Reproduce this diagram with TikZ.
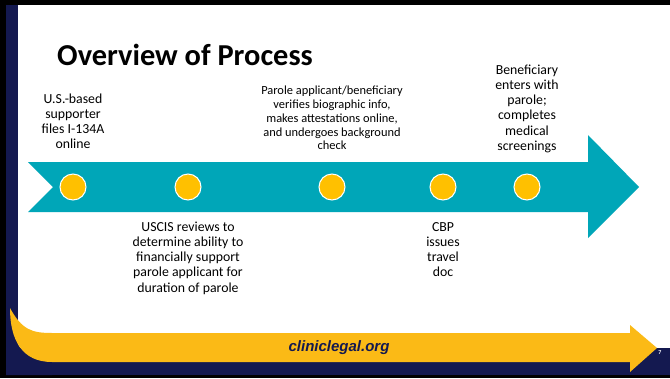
\documentclass[tikz,border=0pt]{standalone}
\usepackage{fontspec}
\setmainfont{Carlito}
\newfontfamily\sitefont{Liberation Sans}
\usetikzlibrary{calc,positioning,shapes.geometric}
\definecolor{slidenavy}{RGB}{20,25,80}
\definecolor{arrowteal}{RGB}{0,166,184}
\definecolor{dotyellow}{RGB}{255,192,0}
\definecolor{bandyellow}{RGB}{251,186,22}

\begin{document}
\begin{tikzpicture}[
  x=1pt,y=-1pt,
  steptext/.style={align=center,inner sep=0pt,anchor=north,font=\fontsize{13.8}{15.2}\selectfont},
  smalltext/.style={steptext,font=\fontsize{12.4}{13.8}\selectfont},
  dot/.style={circle,fill=dotyellow,draw=white,line width=1pt,minimum size=26pt,inner sep=0pt},
  ]
  \useasboundingbox (0,0) rectangle (670,378);

  % frame of the slide
  \fill[black] (0,0) rectangle (670,378);
  \fill[white] (18,5) rectangle (670,348);
  \fill[slidenavy] (6,5) rectangle (18,375);
  \fill[slidenavy] (6,348) rectangle (670,375);
  \fill[slidenavy] (6,308) -- (10,308) .. controls (10,340) and (22,362) .. (52,362) -- (52,375) -- (6,375) -- cycle;

  % footer swoosh
  \fill[bandyellow] (10,308) .. controls (22,330) and (32,333) .. (52,333) -- (630,333) -- (630,325)
    -- (657,348) -- (630,372) -- (630,362) -- (52,362) .. controls (22,362) and (10,340) .. cycle;

  \node (site) [font=\sitefont\fontsize{15}{18}\selectfont\bfseries\itshape,text=slidenavy] at (339,348) {cliniclegal.org};
  \node (page) [font=\fontsize{6}{7}\selectfont\bfseries,text=white] at (660,353) {7};

  \node (title) [anchor=base west,inner sep=0pt,font=\fontsize{30.4}{36}\selectfont\bfseries] at (57,65) {Overview of Process};

  % timeline arrow
  \fill[arrowteal] (28,162) -- (588,162) -- (588,135) -- (639,187) -- (588,238) -- (588,212) -- (28,212) -- (53,187) -- cycle;

  \foreach \x [count=\i] in {73,188,332,443,527}
  {
    \node (dot_\i) [dot] at (\x,187) {};
  }

  \node (text_1) [steptext] at($(dot_1)+(0,-94.6)$) {\strut U.S.-based\\supporter\\files I-134A\\online};
  \node (text_2) [steptext] at($(dot_2)+(0,33.4)$) {\strut USCIS reviews to\\determine ability to\\financially support\\parole applicant for\\duration of parole};
  \node (text_3) [smalltext] at($(dot_3)+(0,-102.2)$) {\strut Parole applicant/beneficiary\\verifies biographic info,\\makes attestations online,\\and undergoes background\\check};
  \node (text_4) [steptext] at($(dot_4)+(0,33.4)$) {\strut CBP\\issues\\travel\\doc};
  \node (text_5) [steptext] at($(dot_5)+(0,-123.6)$) {\strut Beneficiary\\enters with\\parole;\\completes\\medical\\screenings};

\end{tikzpicture}
\end{document}
